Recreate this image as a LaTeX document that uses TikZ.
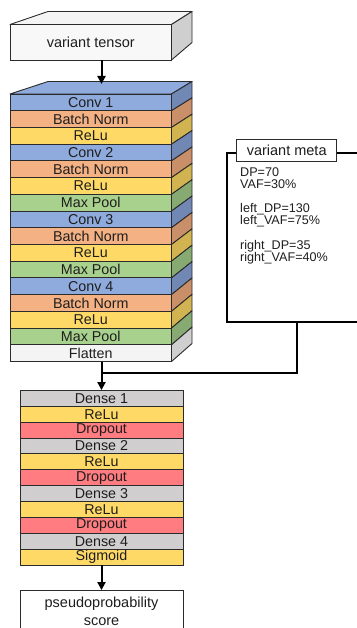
\documentclass[tikz,border=0pt]{standalone}
\usepackage{fontspec}
\setmainfont{Liberation Sans}
\usetikzlibrary{arrows.meta}

% layer palette
\definecolor{conv}{HTML}{8FAADC}
\definecolor{convS}{HTML}{7188B4}
\definecolor{bn}{HTML}{F4B183}
\definecolor{bnS}{HTML}{C98F69}
\definecolor{relu}{HTML}{FFD966}
\definecolor{reluS}{HTML}{D2B351}
\definecolor{pool}{HTML}{A9D18E}
\definecolor{poolS}{HTML}{87A972}
\definecolor{flat}{HTML}{F4F4F4}
\definecolor{flatS}{HTML}{CFCFCF}
\definecolor{dense}{HTML}{D0CECE}
\definecolor{drop}{HTML}{FF7C80}
\definecolor{edge}{HTML}{2B2B2B}
\definecolor{txt}{HTML}{1E1E1E}

\tikzset{
  layer/.style={draw=edge, line width=0.9pt, inner sep=0pt, text=txt,
    font=\fontsize{14.3}{14.3}\selectfont},
  convlayer/.style={layer, minimum width=161.5pt, minimum height=16.72pt},
  denselayer/.style={layer, minimum width=163pt, minimum height=15.86pt},
  face/.style={draw=edge, line width=0.9pt, line join=round},
  arr/.style={line width=2pt, -{Triangle[length=8pt,width=8pt]}},
  link/.style={line width=2pt},
  plainbox/.style={draw=edge, line width=0.9pt, fill=white, inner sep=0pt,
    text=txt, font=\fontsize{14.5}{18}\selectfont, align=center},
  metatext/.style={anchor=west, inner sep=0pt, align=left, text=txt,
    font=\fontsize{12.6}{11.6}\selectfont},
}

\begin{document}
\begin{tikzpicture}[x=1pt,y=-1pt]
\useasboundingbox (0,0) rectangle (356,628);

% input block drawn as a box with top and side faces
\fill[flat, face] (10,24.5) -- (48,11.5) -- (192,11.5) -- (171.5,24.5) -- cycle;
\fill[flatS, face] (171.5,24.5) -- (192,11.5) -- (192,42.5) -- (171.5,60) -- cycle;
\node[plainbox, fill=flat!60!white, minimum width=161.5pt, minimum height=35.5pt]
  (vt) at (90.75,42.25) {variant tensor};

% convolutional stack: top face, slanted side bands, front layers
\fill[conv, face] (10,94) -- (48,81.5) -- (192,81.5) -- (171.5,94) -- cycle;
\foreach \lab/\col [count=\n] in {Conv 1/conv, Batch Norm/bn, ReLu/relu,
    Conv 2/conv, Batch Norm/bn, ReLu/relu, Max Pool/pool,
    Conv 3/conv, Batch Norm/bn, ReLu/relu, Max Pool/pool,
    Conv 4/conv, Batch Norm/bn, ReLu/relu, Max Pool/pool, Flatten/flat} {
  \pgfmathsetmacro\yt{94+(\n-1)*16.72}
  \pgfmathsetmacro\yb{\yt+16.72}
  \pgfmathsetmacro\ytb{81.5+(\yt-94)*0.9794}
  \pgfmathsetmacro\ybb{81.5+(\yb-94)*0.9794}
  \fill[\col S, face] (171.5,\yt) -- (192,\ytb) -- (192,\ybb) -- (171.5,\yb) -- cycle;
  \node[convlayer, fill=\col] (cv\n) at (90.75,\yt+8.36) {\lab};
}
\coordinate (stacktop) at (101.5,84);

% fully connected head
\foreach \lab/\col [count=\n] in {Dense 1/dense, ReLu/relu, Dropout/drop,
    Dense 2/dense, ReLu/relu, Dropout/drop, Dense 3/dense, ReLu/relu,
    Dropout/drop, Dense 4/dense, Sigmoid/relu} {
  \node[denselayer, fill=\col] (dn\n) at (101.5,390.5+\n*15.86-7.93) {\lab};
}

\node[plainbox, minimum width=163pt, minimum height=41.5pt] (out) at (101.5,611.25)
  {pseudoprobability\\score};

% metadata panel
\node[draw=black, line width=2.2pt, minimum width=140pt, minimum height=168.7pt,
  inner sep=0pt] (metabox) at (296.7,237.35) {};
\node[plainbox, minimum width=100pt, minimum height=22.4pt] (metahead)
  at (286.7,150.5) {variant meta};
\node[metatext] (m1) at (240,178) {DP=70\\VAF=30\%};
\node[metatext] (m2) at (240,215.3) {left\_DP=130\\left\_VAF=75\%};
\node[metatext] (m3) at (240,252.2) {right\_DP=35\\right\_VAF=40\%};

% connectors
\coordinate (join) at (101.5,372.7);
\draw[arr] (vt.south -| stacktop) -- (stacktop);
\draw[arr] (cv16.south -| dn1.north) -- (dn1.north);
\draw[link] (metabox.south) |- (join);
\draw[arr] (dn11.south) -- (out.north);
\end{tikzpicture}
\end{document}
